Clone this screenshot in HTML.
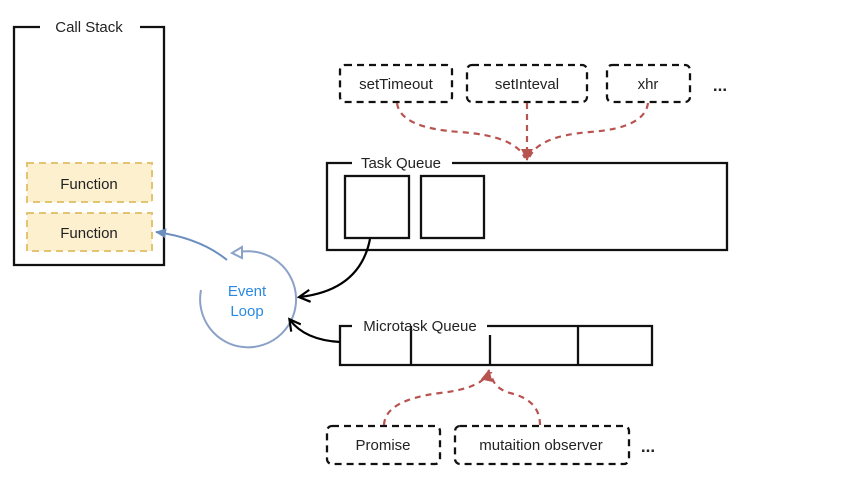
<!DOCTYPE html>
<html><head><meta charset="utf-8"><style>
html,body{margin:0;padding:0;background:#fff;}
svg{display:block;}
text{font-family:"Liberation Sans",sans-serif;font-size:15px;fill:#222;}
</style></head><body>
<svg width="866" height="491" viewBox="0 0 866 491" xmlns="http://www.w3.org/2000/svg">
<defs>
<marker id="rh" markerWidth="14" markerHeight="14" refX="11" refY="7" orient="auto" markerUnits="userSpaceOnUse"><path d="M0,1 L12,7 L0,13 Z" fill="#b85450"/></marker>
<marker id="bh" markerWidth="14" markerHeight="14" refX="11" refY="7" orient="auto" markerUnits="userSpaceOnUse"><path d="M1,1 L12,7 L1,13" fill="none" stroke="#000" stroke-width="2.2"/></marker>
<marker id="blh" markerWidth="12" markerHeight="12" refX="10" refY="6" orient="auto" markerUnits="userSpaceOnUse"><path d="M0,1 L11,6 L0,11 Z" fill="#6c8ebf"/></marker>
</defs>
<path d="M40,27 L14,27 L14,265 L164,265 L164,27 L140,27" fill="none" stroke="#111" stroke-width="2.3"/>
<text x="89" y="32" text-anchor="middle">Call Stack</text>
<rect x="27" y="163" width="125" height="39" fill="#fdf0cf" stroke="#e3c473" stroke-width="2" stroke-dasharray="7,5"/>
<text x="89" y="189" text-anchor="middle">Function</text>
<rect x="27" y="213" width="125" height="38" fill="#fdf0cf" stroke="#e3c473" stroke-width="2" stroke-dasharray="7,5"/>
<text x="89" y="238" text-anchor="middle">Function</text>
<path d="M201,290 A48,48 0 1 0 240,252" fill="none" stroke="#8aa2c8" stroke-width="2"/>
<path d="M242,247 L232,253 L242,258 Z" fill="#fff" stroke="#8aa2c8" stroke-width="2"/>
<path d="M227,260 Q200,238 156,232" fill="none" stroke="#6c8ebf" stroke-width="2" marker-end="url(#blh)"/>
<text x="247" y="296" text-anchor="middle" style="fill:#2a8ae0">Event</text>
<text x="247" y="316" text-anchor="middle" style="fill:#2a8ae0">Loop</text>
<rect x="340" y="65" width="112" height="37" rx="5" fill="none" stroke="#111" stroke-width="2.3" stroke-dasharray="7,5"/>
<text x="396" y="89" text-anchor="middle">setTimeout</text>
<rect x="467" y="65" width="120" height="37" rx="5" fill="none" stroke="#111" stroke-width="2.3" stroke-dasharray="7,5"/>
<text x="527" y="89" text-anchor="middle">setInteval</text>
<rect x="607" y="65" width="83" height="37" rx="5" fill="none" stroke="#111" stroke-width="2.3" stroke-dasharray="7,5"/>
<text x="648" y="89" text-anchor="middle">xhr</text>
<text x="720" y="91" text-anchor="middle" style="font-size:17px;font-weight:bold">...</text>
<path d="M397,103 Q400,128 460,132 Q515,136 525,158" fill="none" stroke="#b85450" stroke-width="2.2" stroke-dasharray="6,5"/>
<path d="M527,103 L527,160" fill="none" stroke="#b85450" stroke-width="2.2" stroke-dasharray="6,5" marker-end="url(#rh)"/>
<path d="M648,103 Q645,128 590,132 Q538,136 529,158" fill="none" stroke="#b85450" stroke-width="2.2" stroke-dasharray="6,5"/>
<path d="M352,163 L327,163 L327,250 L727,250 L727,163 L452,163" fill="none" stroke="#111" stroke-width="2.3"/>
<text x="401" y="168" text-anchor="middle">Task Queue</text>
<rect x="345" y="176" width="64" height="62" fill="none" stroke="#111" stroke-width="2.3"/>
<rect x="421" y="176" width="63" height="62" fill="none" stroke="#111" stroke-width="2.3"/>
<path d="M370,239 Q360,290 300,297" fill="none" stroke="#000" stroke-width="2.2" marker-end="url(#bh)"/>
<path d="M352,326 L340,326 L340,365 L652,365 L652,326 L487,326" fill="none" stroke="#111" stroke-width="2.3"/>
<line x1="411" y1="326" x2="411" y2="365" stroke="#111" stroke-width="2.3"/>
<line x1="490" y1="335" x2="490" y2="365" stroke="#111" stroke-width="2.3"/>
<line x1="578" y1="326" x2="578" y2="365" stroke="#111" stroke-width="2.3"/>
<text x="420" y="331" text-anchor="middle">Microtask Queue</text>
<path d="M340,342 Q305,340 290,320" fill="none" stroke="#000" stroke-width="2.2" marker-end="url(#bh)"/>
<rect x="327" y="426" width="113" height="38" rx="5" fill="none" stroke="#111" stroke-width="2.3" stroke-dasharray="7,5"/>
<text x="383" y="450" text-anchor="middle">Promise</text>
<rect x="455" y="426" width="174" height="38" rx="5" fill="none" stroke="#111" stroke-width="2.3" stroke-dasharray="7,5"/>
<text x="541" y="450" text-anchor="middle">mutaition observer</text>
<text x="648" y="452" text-anchor="middle" style="font-size:17px;font-weight:bold">...</text>
<path d="M384,425 Q385,400 440,393 Q485,388 489,370" fill="none" stroke="#b85450" stroke-width="2.2" stroke-dasharray="6,5" marker-end="url(#rh)"/>
<path d="M540,425 Q540,400 510,393 Q492,388 491,372" fill="none" stroke="#b85450" stroke-width="2.2" stroke-dasharray="6,5"/>
</svg>
</body></html>
